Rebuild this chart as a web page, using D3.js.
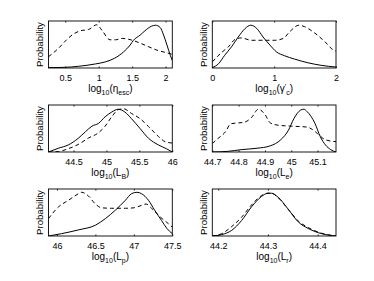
<!DOCTYPE html>
<html><head><meta charset="utf-8">
<script src="https://cdn.jsdelivr.net/npm/d3@7"></script>
<style>
body{margin:0;background:#fff}
svg{display:block}
text{font-family:"Liberation Sans",Arial,Helvetica,sans-serif;fill:#000}
</style>
</head><body>
<svg id="c" width="374" height="281"></svg>
<script>
// ---------- data (x value, relative probability) ----------
const etaDomain = [0.25, 2.1];
const etaTicks = [0.5, 1, 1.5, 2];
const etaSolid = [[0.25,0.007],[0.5,0.014],[0.7,0.036],[0.95,0.086],[1.1,0.13],[1.24,0.21],[1.37,0.34],[1.47,0.49],[1.52,0.59],[1.62,0.70],[1.69,0.79],[1.79,0.89],[1.85,0.91],[1.92,0.86],[1.97,0.70],[2.02,0.49],[2.07,0.27],[2.1,0.16]];
const etaDashed = [[0.25,0.24],[0.4,0.42],[0.52,0.6],[0.62,0.72],[0.72,0.79],[0.85,0.82],[0.97,0.92],[1.05,0.8],[1.17,0.6],[1.25,0.6],[1.35,0.63],[1.45,0.61],[1.62,0.53],[1.75,0.45],[1.87,0.38],[2.0,0.33],[2.1,0.29]];

const gamDomain = [0, 2];
const gamTicks = [0, 1, 2];
const gamSolid = [[0,0.007],[0.1,0.09],[0.2,0.27],[0.31,0.45],[0.42,0.66],[0.53,0.84],[0.62,0.91],[0.72,0.84],[0.82,0.66],[0.93,0.49],[1.04,0.34],[1.17,0.26],[1.33,0.19],[1.55,0.11],[1.76,0.057],[2.0,0.02]];
const gamDashed = [[0,0.13],[0.15,0.33],[0.26,0.45],[0.37,0.61],[0.47,0.64],[0.63,0.59],[0.8,0.59],[1.01,0.59],[1.15,0.63],[1.25,0.77],[1.4,0.91],[1.49,0.88],[1.66,0.74],[1.82,0.56],[1.95,0.39],[2.0,0.36]];

const lbDomain = [44.12, 46.0];
const lbTicks = [44.5, 45, 45.5, 46];
const lbSolid = [[44.12,0],[44.27,0.08],[44.42,0.15],[44.57,0.29],[44.68,0.43],[44.78,0.55],[44.88,0.61],[44.98,0.75],[45.08,0.85],[45.18,0.91],[45.28,0.85],[45.38,0.71],[45.51,0.5],[45.64,0.29],[45.79,0.15],[45.91,0.07],[46.0,0]];
const lbDashed = [[44.12,0],[44.27,0.01],[44.42,0.07],[44.57,0.16],[44.73,0.3],[44.88,0.41],[44.98,0.55],[45.08,0.75],[45.18,0.9],[45.26,0.92],[45.38,0.82],[45.51,0.71],[45.64,0.54],[45.79,0.33],[45.89,0.22],[46.0,0.19]];

const leDomain = [44.7, 45.17];
const leTicks = [44.7, 44.8, 44.9, 45, 45.1];
const leSolid = [[44.7,0],[44.76,0.014],[44.81,0.05],[44.87,0.08],[44.92,0.13],[44.96,0.26],[44.99,0.47],[45.01,0.71],[45.035,0.89],[45.048,0.91],[45.06,0.86],[45.09,0.61],[45.11,0.33],[45.13,0.15],[45.15,0.05],[45.17,0]];
const leDashed = [[44.7,0.18],[44.72,0.28],[44.75,0.43],[44.77,0.6],[44.8,0.62],[44.82,0.63],[44.85,0.74],[44.875,0.91],[44.9,0.8],[44.92,0.62],[44.95,0.57],[45.0,0.55],[45.06,0.53],[45.08,0.48],[45.1,0.39],[45.13,0.26],[45.17,0.22]];

const lpDomain = [45.89, 47.5];
const lpTicks = [46, 46.5, 47, 47.5];
const lpSolid = [[45.89,0],[46.06,0.05],[46.28,0.13],[46.5,0.23],[46.63,0.37],[46.76,0.55],[46.89,0.76],[46.97,0.9],[47.04,0.93],[47.1,0.9],[47.19,0.76],[47.27,0.55],[47.36,0.33],[47.43,0.16],[47.5,0.05]];
const lpDashed = [[45.89,0.37],[46.02,0.62],[46.15,0.76],[46.28,0.9],[46.32,0.93],[46.41,0.85],[46.5,0.68],[46.58,0.6],[46.71,0.59],[46.89,0.59],[47.0,0.6],[47.08,0.64],[47.16,0.68],[47.23,0.59],[47.34,0.41],[47.45,0.26],[47.5,0.19]];

const lrDomain = [44.188, 44.437];
const lrTicks = [44.2, 44.3, 44.4];
const lrSolid = [[44.188,0],[44.207,0.03],[44.227,0.12],[44.247,0.33],[44.267,0.62],[44.287,0.84],[44.3,0.91],[44.307,0.91],[44.32,0.83],[44.34,0.58],[44.361,0.3],[44.381,0.16],[44.408,0.05],[44.437,0]];
const lrDashed = [[44.188,0],[44.207,0.05],[44.227,0.2],[44.247,0.4],[44.267,0.66],[44.287,0.86],[44.3,0.91],[44.307,0.91],[44.32,0.82],[44.34,0.58],[44.361,0.32],[44.381,0.18],[44.408,0.06],[44.437,0]];

const yLabel = "Probability";
// axis label pieces: [text, mode]  mode: 0 normal, 1 subscript, 2 superscript
const etaLabel = [["log",0],["10",1],["(",0],["η",0],["esc",1],[")",0]];
const gamLabel = [["log",0],["10",1],["(",0],["γ",0],["′",2],["c",1],[")",0]];
const lbLabel = [["log",0],["10",1],["(L",0],["B",1],[")",0]];
const leLabel = [["log",0],["10",1],["(L",0],["e",1],[")",0]];
const lpLabel = [["log",0],["10",1],["(L",0],["p",1],[")",0]];
const lrLabel = [["log",0],["10",1],["(L",0],["r",1],[")",0]];

// ---------- layout ----------
const colX = [[48.5, 172.3], [212.3, 336]];
const rowTop = [21, 105, 189];
const panelH = 47;

const panels = [
  {s: etaSolid, d: etaDashed, dom: etaDomain, t: etaTicks, lab: etaLabel, c: 0, r: 0},
  {s: gamSolid, d: gamDashed, dom: gamDomain, t: gamTicks, lab: gamLabel, c: 1, r: 0},
  {s: lbSolid, d: lbDashed, dom: lbDomain, t: lbTicks, lab: lbLabel, c: 0, r: 1},
  {s: leSolid, d: leDashed, dom: leDomain, t: leTicks, lab: leLabel, c: 1, r: 1},
  {s: lpSolid, d: lpDashed, dom: lpDomain, t: lpTicks, lab: lpLabel, c: 0, r: 2},
  {s: lrSolid, d: lrDashed, dom: lrDomain, t: lrTicks, lab: lrLabel, c: 1, r: 2}
];

const svg = d3.select("#c");
svg.append("rect").attr("width", 374).attr("height", 281).attr("fill", "#fff");

panels.forEach((p, i) => {
  const x0 = colX[p.c][0], x1 = colX[p.c][1];
  const y0 = rowTop[p.r], y1 = y0 + panelH;
  const x = d3.scaleLinear().domain(p.dom).range([x0, x1]);
  const y = d3.scaleLinear().domain([0, 1]).range([y1, y0]);

  const clipId = "clip" + i;
  svg.append("clipPath").attr("id", clipId).append("rect")
    .attr("x", x0).attr("y", y0).attr("width", x1 - x0).attr("height", y1 - y0);

  const line = d3.line().x(d => x(d[0])).y(d => y(d[1])).curve(d3.curveMonotoneX);
  const g = svg.append("g");
  g.append("path").datum(p.d).attr("d", line).attr("fill", "none")
    .attr("stroke", "#000").attr("stroke-width", 1).attr("stroke-dasharray", "4,3")
    .attr("clip-path", `url(#${clipId})`);
  g.append("path").datum(p.s).attr("d", line).attr("fill", "none")
    .attr("stroke", "#000").attr("stroke-width", 1)
    .attr("clip-path", `url(#${clipId})`);

  // bottom axis (ticks inside)
  const ax = svg.append("g").attr("transform", `translate(0,${y1})`)
    .call(d3.axisBottom(x).tickValues(p.t).tickSize(-1.6).tickSizeOuter(0).tickFormat(v => String(+v.toFixed(3))));
  ax.select(".domain").remove();
  ax.selectAll(".tick line").attr("stroke", "#000").attr("stroke-width", 0.8);
  ax.selectAll(".tick text").attr("y", 12.5).attr("dy", 0)
    .attr("font-size", 9).attr("font-family", '"Liberation Sans",Arial,sans-serif').attr("fill", "#000");
  // top ticks
  const axT = svg.append("g").attr("transform", `translate(0,${y0})`)
    .call(d3.axisTop(x).tickValues(p.t).tickSize(-1.6).tickSizeOuter(0).tickFormat(""));
  axT.select(".domain").remove();
  axT.selectAll(".tick line").attr("stroke", "#000").attr("stroke-width", 0.8);

  // box
  svg.append("rect").attr("x", x0).attr("y", y0).attr("width", x1 - x0).attr("height", y1 - y0)
    .attr("fill", "none").attr("stroke", "#000").attr("stroke-width", 0.9);

  // y label
  svg.append("text")
    .attr("transform", `translate(${x0 - 5.5},${(y0 + y1) / 2}) rotate(-90)`)
    .attr("text-anchor", "middle").attr("font-size", 9.6).text(yLabel);

  // x label
  const t = svg.append("text").attr("x", (x0 + x1) / 2).attr("y", y1 + 23.5)
    .attr("text-anchor", "middle").attr("font-size", 10);
  let off = 0;
  p.lab.forEach(([txt, mode]) => {
    const ts = t.append("tspan").text(txt);
    let target = 0;
    if (mode === 1) { target = 3.2; ts.attr("font-size", 7); }
    if (mode === 2) { target = -3; ts.attr("font-size", 7); }
    if (target !== off) ts.attr("dy", target - off);
    off = target;
  });
});
</script>
</body></html>
